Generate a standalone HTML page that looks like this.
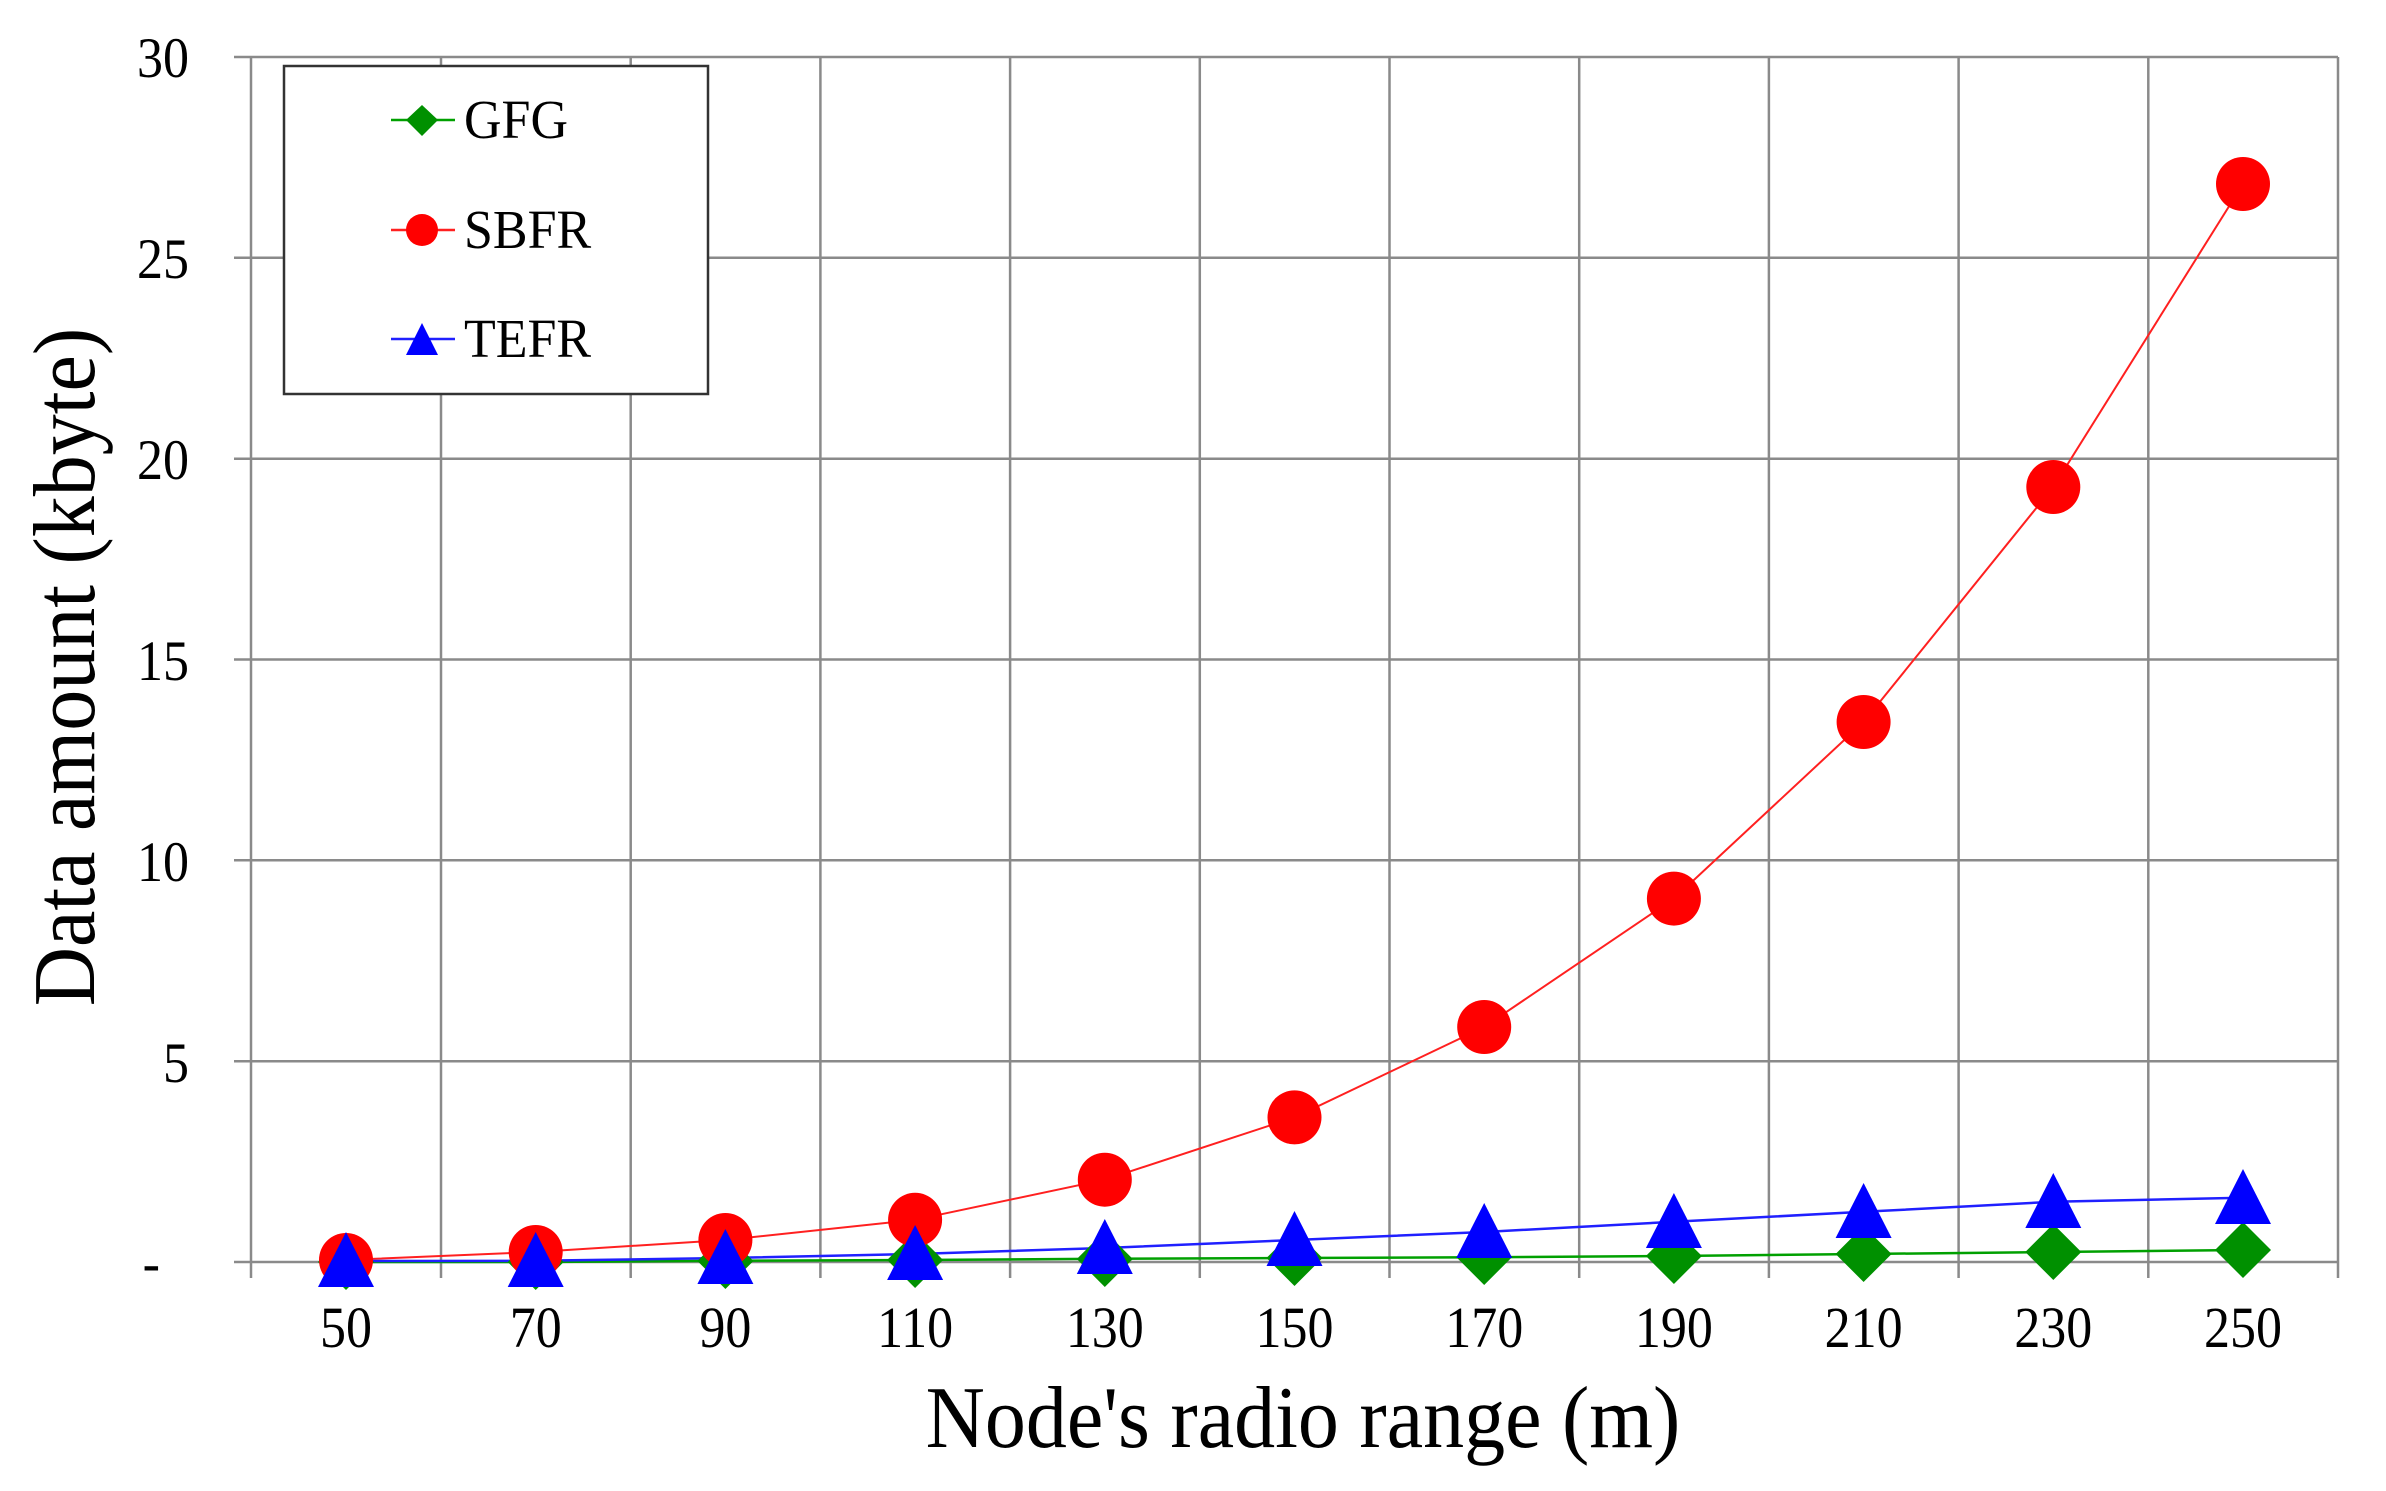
<!DOCTYPE html>
<html><head><meta charset="utf-8"><style>
html,body{margin:0;padding:0;background:#fff;}
svg{display:block;font-family:"Liberation Serif",serif;}
</style></head><body>
<svg width="2386" height="1491" viewBox="0 0 2386 1491" xmlns="http://www.w3.org/2000/svg">
<g stroke="#8a8a8a" stroke-width="2.5" fill="none">
<line x1="234" y1="1262" x2="2338" y2="1262"/>
<line x1="234" y1="1061.2" x2="2338" y2="1061.2"/>
<line x1="234" y1="860.3" x2="2338" y2="860.3"/>
<line x1="234" y1="659.5" x2="2338" y2="659.5"/>
<line x1="234" y1="458.7" x2="2338" y2="458.7"/>
<line x1="234" y1="257.8" x2="2338" y2="257.8"/>
<line x1="234" y1="57" x2="2338" y2="57"/>
<line x1="251" y1="57" x2="251" y2="1278"/>
<line x1="441" y1="57" x2="441" y2="1278"/>
<line x1="630.7" y1="57" x2="630.7" y2="1278"/>
<line x1="820.4" y1="57" x2="820.4" y2="1278"/>
<line x1="1010.1" y1="57" x2="1010.1" y2="1278"/>
<line x1="1199.8" y1="57" x2="1199.8" y2="1278"/>
<line x1="1389.5" y1="57" x2="1389.5" y2="1278"/>
<line x1="1579.2" y1="57" x2="1579.2" y2="1278"/>
<line x1="1768.9" y1="57" x2="1768.9" y2="1278"/>
<line x1="1958.6" y1="57" x2="1958.6" y2="1278"/>
<line x1="2148.3" y1="57" x2="2148.3" y2="1278"/>
<line x1="2338" y1="57" x2="2338" y2="1278"/>
</g>
<g font-size="52" text-anchor="end" fill="#000">
<text transform="translate(189,77) scale(1,1.1)">30</text>
<text transform="translate(189,278) scale(1,1.1)">25</text>
<text transform="translate(189,479) scale(1,1.1)">20</text>
<text transform="translate(189,680) scale(1,1.1)">15</text>
<text transform="translate(189,881) scale(1,1.1)">10</text>
<text transform="translate(189,1082) scale(1,1.1)">5</text>
<text transform="translate(160,1282) scale(1,1.1)">-</text>
</g>
<g font-size="52" text-anchor="middle" fill="#000">
<text transform="translate(346,1347) scale(1,1.12)">50</text>
<text transform="translate(535.7,1347) scale(1,1.12)">70</text>
<text transform="translate(725.4,1347) scale(1,1.12)">90</text>
<text transform="translate(915.1,1347) scale(1,1.12)">110</text>
<text transform="translate(1104.8,1347) scale(1,1.12)">130</text>
<text transform="translate(1294.5,1347) scale(1,1.12)">150</text>
<text transform="translate(1484.2,1347) scale(1,1.12)">170</text>
<text transform="translate(1673.9,1347) scale(1,1.12)">190</text>
<text transform="translate(1863.6,1347) scale(1,1.12)">210</text>
<text transform="translate(2053.3,1347) scale(1,1.12)">230</text>
<text transform="translate(2243,1347) scale(1,1.12)">250</text>
</g>
<text transform="translate(1303,1447) scale(1,1.07)" font-size="82" text-anchor="middle">Node's radio range (m)</text>
<text transform="translate(94,667) rotate(-90) scale(1,1.07)" font-size="82" text-anchor="middle">Data amount (kbyte)</text>
<polyline fill="none" stroke="#00a000" stroke-width="2.5" points="346,1262 535.7,1262 725.4,1260.8 915.1,1260 1104.8,1258.8 1294.5,1258 1484.2,1257.2 1673.9,1256 1863.6,1254 2053.3,1252 2243,1250"/>
<polyline fill="none" stroke="#ff2020" stroke-width="2" points="346,1260 535.7,1252 725.4,1240 915.1,1219.8 1104.8,1179.7 1294.5,1117.4 1484.2,1027 1673.9,898.6 1863.6,722 2053.3,487 2243,184"/>
<polyline fill="none" stroke="#2020ff" stroke-width="2.5" points="346,1261 535.7,1260.8 725.4,1258 915.1,1254 1104.8,1248 1294.5,1240 1484.2,1232 1673.9,1221.8 1863.6,1211.8 2053.3,1201.8 2243,1197.7"/>
<g fill="#009000">
<polygon points="346,1234 374,1262 346,1290 318,1262"/><polygon points="535.7,1234 563.7,1262 535.7,1290 507.7,1262"/>
<polygon points="725.4,1233 753.4,1261 725.4,1289 697.4,1261"/><polygon points="915.1,1232 943.1,1260 915.1,1288 887.1,1260"/>
<polygon points="1104.8,1231 1132.8,1259 1104.8,1287 1076.8,1259"/><polygon points="1294.5,1230 1322.5,1258 1294.5,1286 1266.5,1258"/>
<polygon points="1484.2,1229 1512.2,1257 1484.2,1285 1456.2,1257"/><polygon points="1673.9,1228 1701.9,1256 1673.9,1284 1645.9,1256"/>
<polygon points="1863.6,1226 1891.6,1254 1863.6,1282 1835.6,1254"/><polygon points="2053.3,1224 2081.3,1252 2053.3,1280 2025.3,1252"/>
<polygon points="2243,1222 2271,1250 2243,1278 2215,1250"/>
</g>
<g fill="#ff0000">
<circle cx="346" cy="1260" r="27"/><circle cx="535.7" cy="1252" r="27"/><circle cx="725.4" cy="1240" r="27"/>
<circle cx="915.1" cy="1219.8" r="27"/><circle cx="1104.8" cy="1179.7" r="27"/><circle cx="1294.5" cy="1117.4" r="27"/>
<circle cx="1484.2" cy="1027" r="27"/><circle cx="1673.9" cy="898.6" r="27"/><circle cx="1863.6" cy="722" r="27"/>
<circle cx="2053.3" cy="487" r="27"/><circle cx="2243" cy="184" r="27"/>
</g>
<g fill="#0000ff">
<polygon points="346,1232 374,1287 318,1287"/><polygon points="535.7,1232 563.7,1287 507.7,1287"/>
<polygon points="725.4,1229 753.4,1284 697.4,1284"/><polygon points="915.1,1225 943.1,1280 887.1,1280"/>
<polygon points="1104.8,1219 1132.8,1274 1076.8,1274"/><polygon points="1294.5,1211 1322.5,1266 1266.5,1266"/>
<polygon points="1484.2,1203 1512.2,1258 1456.2,1258"/><polygon points="1673.9,1193 1701.9,1248 1645.9,1248"/>
<polygon points="1863.6,1183 1891.6,1238 1835.6,1238"/><polygon points="2053.3,1173 2081.3,1228 2025.3,1228"/>
<polygon points="2243,1169 2271,1224 2215,1224"/>
</g>
<rect x="284" y="66" width="424" height="328" fill="#fff" stroke="#333" stroke-width="2.5"/>
<line x1="391" y1="120" x2="455" y2="120" stroke="#00a000" stroke-width="2.5"/>
<polygon points="422,105 438,120 422,136 406,120" fill="#009000"/>
<line x1="391" y1="230" x2="455" y2="230" stroke="#ff2020" stroke-width="2.5"/>
<ellipse cx="422" cy="230" rx="16" ry="16" fill="#ff0000"/>
<line x1="391" y1="339" x2="455" y2="339" stroke="#2020ff" stroke-width="2.5"/>
<polygon points="422,323 438,355 406,355" fill="#0000ff"/>
<g font-size="52" fill="#000">
<text transform="translate(464,138) scale(1,1.05)">GFG</text>
<text transform="translate(464,248) scale(1,1.05)">SBFR</text>
<text transform="translate(464,357) scale(1,1.05)">TEFR</text>
</g>
</svg>
</body></html>
